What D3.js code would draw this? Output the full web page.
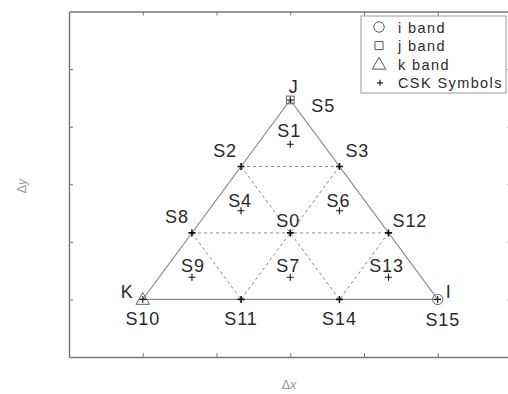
<!DOCTYPE html>
<html>
<head>
<meta charset="utf-8">
<script src="https://cdn.jsdelivr.net/npm/d3@7"></script>
<style>
  html, body { margin: 0; padding: 0; background: #fff; }
  svg { display: block; }
  text { font-family: "Liberation Sans", Arial, sans-serif; }
</style>
</head>
<body>
<svg id="chart" width="508" height="394"></svg>
<script>
// CSK constellation symbols (chromaticity offsets)
const symbolNames = ["S0","S1","S2","S3","S4","S5","S6","S7","S8","S9","S10","S11","S12","S13","S14","S15"];
const symbolX = [0, 0, -0.667, 0.667, -0.667, 0, 0.667, 0, -1.333, -1.333, -2, -0.667, 1.333, 1.333, 0.667, 2];
const symbolY = [1.155, 2.694, 2.309, 2.309, 1.540, 3.464, 1.540, 0.385, 1.155, 0.385, 0, 0, 1.155, 0.385, 0, 0];

// Band vertices
const bandNames = ["I", "J", "K"];
const bandX = [2, 0, -2];
const bandY = [0, 3.464, 0];

// Dashed sub-division segments, as pairs of symbol names
const gridSegments = [["S8","S12"], ["S2","S3"], ["S2","S14"], ["S3","S11"], ["S8","S11"], ["S12","S14"]];

const xTicks = [-2, -1, 0, 1, 2];
const yTicks = [0, 1, 2, 3, 4];
const legendLabels = ["i band", "j band", "k band", "CSK Symbols"];

const svg = d3.select("#chart");
const x = d3.scaleLinear().domain([-3, 3]).range([69, 511.5]);
const y = d3.scaleLinear().domain([-1, 5]).range([357, 11.5]);

const frameColor = "#777";
const lineColor = "#8a8a8a";
const textColor = "#2a2a2a";

// axes with inward ticks on all four sides, no tick labels
const axisStyle = g => {
  g.select(".domain").attr("stroke", frameColor).attr("stroke-width", 1.4);
  g.selectAll(".tick line").attr("stroke", frameColor).attr("stroke-width", 1);
  g.selectAll(".tick text").remove();
};
svg.append("g").attr("transform", `translate(0,${y(-1)})`)
  .call(d3.axisBottom(x).tickValues(xTicks).tickSize(-4).tickSizeOuter(0)).call(axisStyle);
svg.append("g").attr("transform", `translate(0,${y(5)})`)
  .call(d3.axisTop(x).tickValues(xTicks).tickSize(-4).tickSizeOuter(0)).call(axisStyle);
svg.append("g").attr("transform", `translate(${x(-3)},0)`)
  .call(d3.axisLeft(y).tickValues(yTicks).tickSize(-4).tickSizeOuter(0)).call(axisStyle);
svg.append("g").attr("transform", `translate(${x(3)},0)`)
  .call(d3.axisRight(y).tickValues(yTicks).tickSize(-4).tickSizeOuter(0)).call(axisStyle);

// axis titles
const xt = svg.append("text").attr("x", 289).attr("y", 389).attr("text-anchor", "middle")
  .attr("font-size", 12.5).attr("fill", "#999");
xt.append("tspan").text("Δ");
xt.append("tspan").attr("font-style", "italic").text("x");
const yt = svg.append("text").attr("transform", "translate(26,186) rotate(-90)").attr("text-anchor", "middle")
  .attr("font-size", 12.5).attr("fill", "#999");
yt.append("tspan").text("Δ");
yt.append("tspan").attr("font-style", "italic").text("y");

const idx = n => symbolNames.indexOf(n);
const px = n => x(symbolX[idx(n)]);
const py = n => y(symbolY[idx(n)]);

// dashed sub-triangles
svg.append("g").selectAll("line").data(gridSegments).join("line")
  .attr("x1", d => px(d[0])).attr("y1", d => py(d[0]))
  .attr("x2", d => px(d[1])).attr("y2", d => py(d[1]))
  .attr("stroke", lineColor).attr("stroke-width", 1).attr("stroke-dasharray", "3,3");

// outer triangle
const outline = d3.line().x(i => x(bandX[i])).y(i => y(bandY[i]));
svg.append("path").attr("d", outline([0, 1, 2, 0]))
  .attr("fill", "none").attr("stroke", lineColor).attr("stroke-width", 1.1);

// band vertex markers
const bandShape = { I: d3.symbolCircle, J: d3.symbolSquare, K: d3.symbolTriangle };
const bandSize = { I: 85, J: 60, K: 80 };
svg.append("g").selectAll("path").data(bandNames).join("path")
  .attr("transform", (d, i) => `translate(${x(bandX[i])},${y(bandY[i]) + (d === "K" ? 1 : 0)})`)
  .attr("d", d => d3.symbol(bandShape[d], bandSize[d])())
  .attr("fill", "none").attr("stroke", "#666").attr("stroke-width", 1);

// plus markers for every symbol
const plus = (cx, cy, s) => `M${cx - s},${cy}H${cx + s}M${cx},${cy - s}V${cy + s}`;
const onVertex = ["S0","S2","S3","S8","S11","S12","S14"];
svg.append("g").selectAll("path").data(symbolNames).join("path")
  .attr("d", (d, i) => plus(x(symbolX[i]), y(symbolY[i]), 3.5))
  .attr("stroke", "#111")
  .attr("stroke-width", d => onVertex.includes(d) ? 1.6 : 1.1);

// symbol labels: [anchor, dx, dy]
const labelPos = {
  S0: ["middle", -2, -6], S1: ["middle", -1, -7], S2: ["end", -4, -9], S3: ["start", 6, -9],
  S4: ["middle", -1, -4], S5: ["start", 21, 12], S6: ["middle", -1, -4], S7: ["middle", -2, -5],
  S8: ["end", -3, -10], S9: ["middle", 1, -5], S10: ["middle", 0, 26], S11: ["middle", 0, 26],
  S12: ["start", 4, -6], S13: ["middle", -2, -5], S14: ["middle", 0, 26], S15: ["middle", 5, 27]
};
svg.append("g").selectAll("text").data(symbolNames).join("text")
  .attr("x", (d, i) => x(symbolX[i]) + labelPos[d][1])
  .attr("y", (d, i) => y(symbolY[i]) + labelPos[d][2])
  .attr("text-anchor", d => labelPos[d][0])
  .attr("font-size", 18).attr("letter-spacing", 0.9).attr("fill", textColor)
  .text(d => d);

// band labels
const bandLabelPos = { I: ["start", 8, -1], J: ["middle", 3, -7], K: ["end", -10, -1] };
svg.append("g").selectAll("text").data(bandNames).join("text")
  .attr("x", (d, i) => x(bandX[i]) + bandLabelPos[d][1])
  .attr("y", (d, i) => y(bandY[i]) + bandLabelPos[d][2])
  .attr("text-anchor", d => bandLabelPos[d][0])
  .attr("font-size", 18).attr("fill", textColor)
  .text(d => d);

// legend
const lg = svg.append("g").attr("transform", "translate(361,16)");
lg.append("rect").attr("width", 145).attr("height", 77)
  .attr("fill", "#fff").attr("stroke", "#999").attr("stroke-width", 1);
const legendShapes = [d3.symbolCircle, d3.symbolSquare, d3.symbolTriangle, null];
const legendSizes = [85, 65, 80, 0];
legendLabels.forEach((lab, i) => {
  const cy = 11 + i * 18.6;
  if (legendShapes[i]) {
    lg.append("path").attr("transform", `translate(18,${cy + (i === 2 ? 1 : 0)})`)
      .attr("d", d3.symbol(legendShapes[i], legendSizes[i])())
      .attr("fill", "none").attr("stroke", "#555").attr("stroke-width", 1);
  } else {
    lg.append("path").attr("d", plus(19, cy, 3)).attr("stroke", "#222").attr("stroke-width", 1.2);
  }
  lg.append("text").attr("x", 37).attr("y", cy + 5.5)
    .attr("font-size", 14.5).attr("letter-spacing", 1.4).attr("fill", textColor)
    .text(lab);
});
</script>
</body>
</html>
